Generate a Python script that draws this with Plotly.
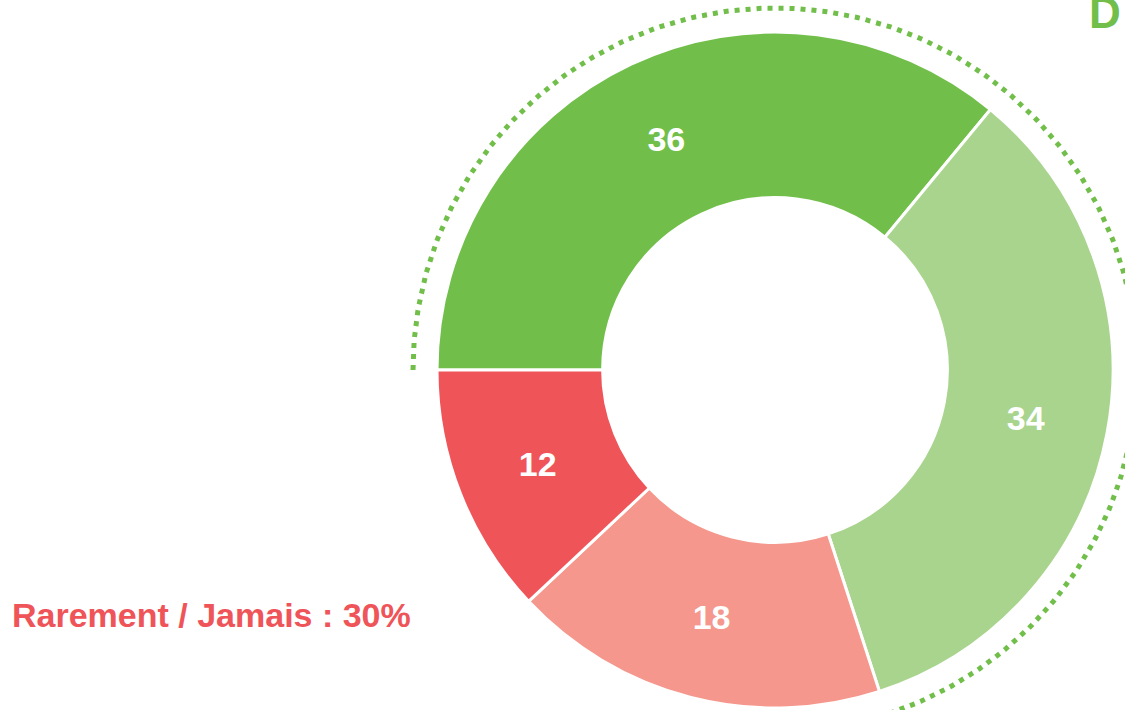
import numpy as np
import plotly.graph_objects as go

labels = ["Souvent", "Parfois", "Rarement", "Jamais"]
values = [36, 34, 18, 12]
colors = ["#71BF4A", "#A9D48E", "#F5978C", "#EF5459"]
green_share = values[0] + values[1]
red_label = "Rarement / Jamais : 30%"
green_label = "D"

W, H = 1125, 710
cx, cy, R = 775, 370, 338
hole = 0.51

fig = go.Figure()
fig.add_trace(go.Pie(
    labels=labels, values=values, sort=False, direction="clockwise",
    rotation=270, hole=hole,
    marker=dict(colors=colors, line=dict(color="white", width=3)),
    texttemplate="%{value}", textposition="inside", insidetextorientation="horizontal",
    textfont=dict(family="Liberation Sans, Arial", size=34, color="white", weight="bold"),
    domain=dict(x=[(cx - R) / W, (cx + R) / W], y=[(H - cy - R) / H, (H - cy + R) / H]),
    showlegend=False, hoverinfo="label+value",
))

# dotted arc around the green slices
start = -90.0
end = start + green_share / sum(values) * 360.0
ang = np.radians(np.linspace(start, end, 400))
ra = 362
ax = cx + ra * np.sin(ang)
ay = H - (cy - ra * np.cos(ang))
fig.add_trace(go.Scatter(x=ax, y=ay, mode="lines",
                         line=dict(color="#71BF4A", width=5, dash="5px,6px"),
                         hoverinfo="skip", showlegend=False))

fig.update_layout(
    width=W, height=H, margin=dict(l=0, r=0, t=0, b=0),
    paper_bgcolor="white", plot_bgcolor="rgba(0,0,0,0)",
    xaxis=dict(range=[0, W], visible=False, domain=[0, 1], fixedrange=True),
    yaxis=dict(range=[0, H], visible=False, domain=[0, 1], fixedrange=True),
    annotations=[
        dict(text=red_label, x=10, y=H - 615, xref="x", yref="y",
             xanchor="left", yanchor="middle", showarrow=False,
             font=dict(family="Liberation Sans, Arial", size=34, color="#EF5459", weight="bold")),
        dict(text=green_label, x=1087, y=H - 39, xref="x", yref="y",
             xanchor="left", yanchor="bottom", showarrow=False,
             font=dict(family="Liberation Sans, Arial", size=44, color="#71BF4A", weight="bold")),
    ],
)
fig.write_html("out.html", config={"displayModeBar": False},
               post_script="document.body.style.margin='0';document.body.style.overflow='hidden';")
